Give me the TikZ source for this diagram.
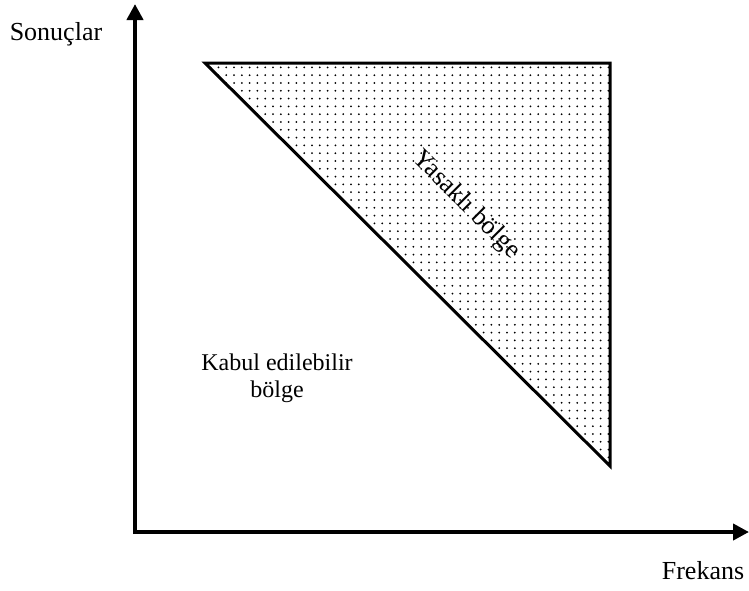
\documentclass[tikz,border=0pt]{standalone}
\usepackage{fontspec}
\setmainfont{Liberation Serif}
\usetikzlibrary{arrows.meta, patterns.meta}
\tikzset{
  every node/.style={font=\fontsize{26}{28}\selectfont, inner sep=0pt},
  % the two axes
  axis/.style={line width=4pt, -{Triangle[length=16pt,width=16pt]}},
  % forbidden area
  zone/.style={line width=3pt, line join=miter,
               pattern={Dots[distance=7.8pt,radius=1pt]}},
  lbl/.style={align=center, font=\fontsize{24}{27}\selectfont},
}

\begin{document}
\begin{tikzpicture}[x=1pt,y=-1pt]
\useasboundingbox (0,0) rectangle (749,590);
\coordinate (ybot)  at (135,534);
\coordinate (ytop)  at (135,4);
\coordinate (xbeg)  at (133,532);
\coordinate (xend)  at (749,532);
\coordinate (zleft) at (205,63);
\coordinate (zright) at (610,63);
\coordinate (zbot)  at (610,466);
\draw[zone] (zleft) -- (zright) -- (zbot) -- cycle;
\draw[axis] (ybot) -- (ytop);
\draw[axis] (xbeg) -- (xend);
\node[anchor=base] (ylabel) at (56,40) {Sonuçlar};
\node[anchor=base] (xlabel) at (703,579) {Frekans};
\node[lbl] (ok) at (277,378) {Kabul edilebilir\\bölge};
\node[rotate=-45] (ban) at (466,205) {Yasaklı bölge};
\end{tikzpicture}
\end{document}
